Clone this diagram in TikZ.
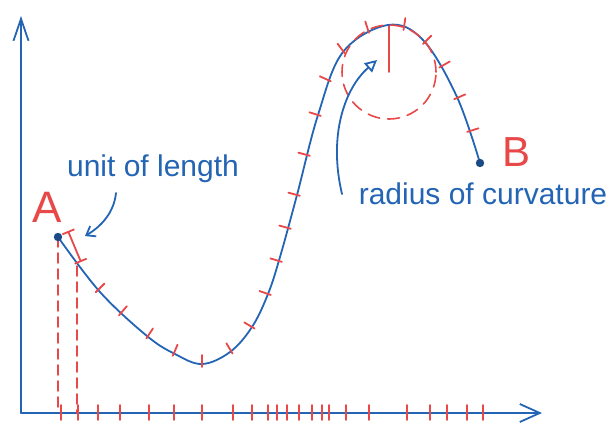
\documentclass[tikz,border=0pt]{standalone}
\usepackage{fontspec}
\setmainfont{Liberation Sans}
\usetikzlibrary{arrows.meta,calc}
\definecolor{pen}{RGB}{35,100,180}
\definecolor{ink}{RGB}{232,72,72}
\begin{document}
\begin{tikzpicture}[x=1pt,y=-1pt, line cap=round, line join=round,
  axis/.style={pen, line width=1.8pt},
  curvestyle/.style={pen, line width=1.8pt},
  redtick/.style={ink, line width=1.8pt},
  reddash/.style={ink, line width=1.6pt, dash pattern=on 10pt off 6pt},
  lbl/.style={pen, font=\fontsize{30}{30}\selectfont, inner sep=0pt},
  ptlbl/.style={ink, font=\fontsize{44}{44}\selectfont, inner sep=0pt},
  dot/.style={pen!75!black},
]
\useasboundingbox (0,0) rectangle (613,425);
% axes
\coordinate (O) at (21,413);
\coordinate (Ytop) at (21,16);
\coordinate (Xend) at (542,413);
\draw[axis, -{Straight Barb[length=22pt,width=15pt]}] (O) -- (Ytop);
\draw[axis, -{Straight Barb[length=20pt,width=18pt]}] (O) -- (Xend);
% curve
\coordinate (A) at (58,237);
\coordinate (U) at (77,266);
\coordinate (B) at (480,163);
\draw[curvestyle]
  plot[smooth, tension=0.6] coordinates {(58,237) (100,292) (147,336) (175,354) (202,364) (230,352) (252,327) (268,294) (280,257) (297,195) (318,115) (343,52) (388,25) (423,40) (457,97) (480,163)};
% unit ticks on the curve
\foreach \px/\py/\nx/\ny in {
  98/290/0.71/-0.71, 121/313/0.65/-0.76, 148/336/0.55/-0.84, 174/353/0.39/-0.92,
  202/364/0/-1, 231/351/-0.51/-0.86, 252/327/-0.86/-0.51, 268/294/-0.94/-0.33,
  279/261/-0.96/-0.29, 288/228/-0.96/-0.27, 297/195/-0.96/-0.26, 307/155/-0.96/-0.26,
  318/115/-0.95/-0.3, 328/80/-0.91/-0.41, 343/51/-0.6/-0.8, 368/30/-0.3/-0.95,
  404/27/0.15/-0.99, 425/42/0.7/-0.7, 442/66/0.87/-0.5, 457/98/0.92/-0.4, 470/131/0.95/-0.3}
  \draw[redtick] ({\px-3*(\nx)},{\py-3*(\ny)}) -- ++({12*(\nx)},{12*(\ny)});
% ticks on the x axis
\foreach \tx in {61,78,98,120,149,174,202,233,252,268,277,287,299,312,322,329,346,369,407,430,447,467,483}
  \draw[redtick] (\tx,405) -- (\tx,420);
\draw[reddash] (A) -- (A |- O);
\draw[reddash] (U) -- (U |- O);
% unit of length marker
\coordinate (I1) at (68,231);
\coordinate (I2) at (81,262);
\draw[redtick, {Bar[width=13pt]}-{Bar[width=13pt]}] (I1) -- (I2);
% osculating circle
\coordinate (C) at (389,72);
\draw[reddash, dash pattern=on 12pt off 8pt] (C) circle[radius=47pt];
\draw[redtick] (C) -- ++(0,-46);
% points
\fill[dot] (A) circle[radius=4.2pt];
\fill[dot] (B) circle[radius=4.2pt];
\node[ptlbl, anchor=base] (Alab) at (47,222) {A};
\node[ptlbl, anchor=base, font=\fontsize{42}{42}\selectfont] (Blab) at (517,167) {B};
% annotations
\node[lbl, anchor=base] (unitlbl) at (153,176) {unit of length};
\coordinate (u0) at (116,193);
\coordinate (u1) at (85,236);
\draw[curvestyle, -{Straight Barb[length=8pt,width=12pt]}] (u0) .. controls (114,212) and (102,226) .. (u1);
\node[lbl, anchor=base] (radlbl) at (483,204) {radius of curvature};
\coordinate (r0) at (342,194);
\coordinate (r1) at (377,60);
\draw[curvestyle, -{Triangle[open, length=12pt, width=12pt]}] (r0) .. controls (328,135) and (345,88) .. (r1);
\end{tikzpicture}
\end{document}
